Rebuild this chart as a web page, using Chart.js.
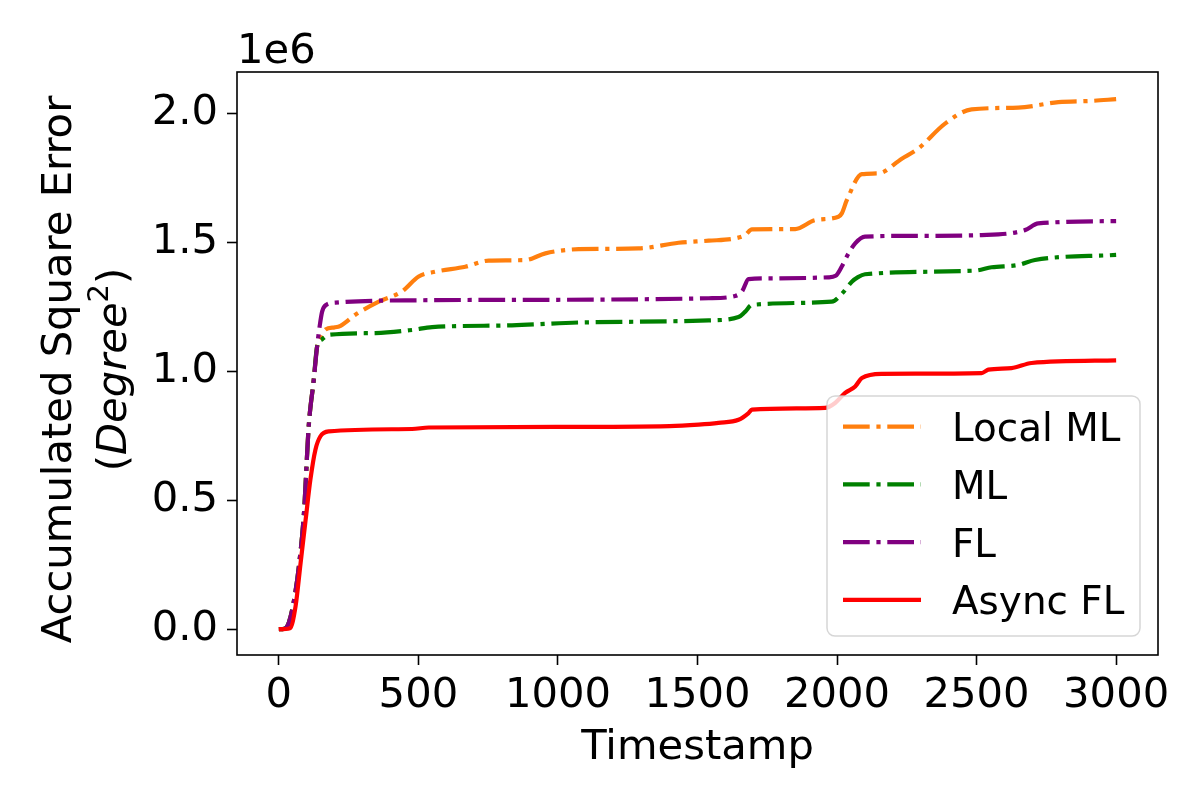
<!DOCTYPE html>
<html>
<head>
<meta charset="utf-8">
<script src="https://cdn.jsdelivr.net/npm/chart.js@4.4.1/dist/chart.umd.min.js"></script>
<style>
  html, body { margin: 0; padding: 0; background: #fff; }
  #wrap { width: 1200px; height: 800px; }
</style>
</head>
<body>
<div id="wrap"><canvas id="lineChart" width="1200" height="800"></canvas></div>
<script>
// accumulated square error per timestamp, values in units of 1e6
const localMlT = [0, 20, 36, 54, 72, 90, 107, 125, 137, 150, 167, 200, 221, 274, 358, 441, 501, 561, 668, 752, 883, 955, 1074, 1289, 1432, 1540, 1635, 1671, 1695, 1850, 1922, 2005, 2017, 2035, 2089, 2148, 2232, 2291, 2387, 2482, 2649, 2793, 2912, 3000];
const localMlV = [0, 0.002, 0.026, 0.11, 0.245, 0.451, 0.787, 0.967, 1.096, 1.13, 1.162, 1.17, 1.176, 1.219, 1.27, 1.309, 1.367, 1.386, 1.405, 1.429, 1.431, 1.457, 1.473, 1.476, 1.498, 1.506, 1.515, 1.528, 1.55, 1.551, 1.586, 1.599, 1.612, 1.663, 1.764, 1.767, 1.824, 1.863, 1.96, 2.015, 2.022, 2.043, 2.048, 2.055];

const mlT = [0, 20, 36, 54, 72, 90, 107, 125, 137, 155, 179, 346, 477, 549, 835, 1074, 1540, 1647, 1670, 1695, 1981, 2017, 2053, 2075, 2100, 2494, 2554, 2649, 2709, 3000];
const mlV = [0, 0.002, 0.026, 0.11, 0.245, 0.451, 0.787, 0.967, 1.096, 1.124, 1.141, 1.148, 1.16, 1.171, 1.178, 1.189, 1.197, 1.21, 1.23, 1.257, 1.27, 1.30, 1.347, 1.365, 1.376, 1.39, 1.403, 1.412, 1.431, 1.451];

const flT = [0, 20, 36, 54, 72, 90, 107, 125, 137, 146, 155, 169, 203, 500, 1000, 1540, 1635, 1660, 1683, 1750, 1969, 1995, 2017, 2040, 2065, 2100, 2300, 2518, 2673, 2721, 3000];
const flV = [0, 0.002, 0.026, 0.11, 0.245, 0.451, 0.787, 0.967, 1.096, 1.173, 1.231, 1.257, 1.266, 1.275, 1.277, 1.283, 1.292, 1.31, 1.357, 1.36, 1.364, 1.37, 1.406, 1.455, 1.496, 1.522, 1.525, 1.528, 1.547, 1.573, 1.582];

const asyncFlT = [0, 40, 60, 78, 96, 113, 131, 149, 179, 477, 537, 1000, 1400, 1504, 1575, 1647, 1683, 1695, 1957, 1993, 2029, 2065, 2089, 2160, 2518, 2542, 2625, 2697, 3000];
const asyncFlV = [0, 0.004, 0.09, 0.258, 0.425, 0.58, 0.696, 0.748, 0.767, 0.776, 0.782, 0.784, 0.787, 0.793, 0.80, 0.812, 0.838, 0.851, 0.858, 0.877, 0.916, 0.941, 0.974, 0.99, 0.993, 1.006, 1.012, 1.032, 1.042];

const seriesNames = ['Local ML', 'ML', 'FL', 'Async FL'];
const seriesColors = ['#ff7f0e', '#008000', '#800080', '#ff0000'];

const xTicks = [0, 500, 1000, 1500, 2000, 2500, 3000];
const yTicks = [0, 0.5, 1.0, 1.5, 2.0];

const FONT = '"DejaVu Sans", sans-serif';
const DASHDOT = [26.7, 6.7, 4.2, 6.7];

function pairs(ts, vs) {
    return ts.map((t, i) => ({ x: t, y: vs[i] }));
}

const seriesData = [
    pairs(localMlT, localMlV),
    pairs(mlT, mlV),
    pairs(flT, flV),
    pairs(asyncFlT, asyncFlV)
];

const datasets = seriesNames.map((name, i) => ({
    label: name,
    data: seriesData[i],
    borderColor: seriesColors[i],
    backgroundColor: seriesColors[i],
    borderWidth: 4.2,
    borderDash: i < 3 ? DASHDOT : [],
    pointRadius: 0,
    fill: false,
    cubicInterpolationMode: 'monotone',
    order: 3 - i   // later series on top, like matplotlib
}));

// frame, offset text, y label and legend
const decor = {
    id: 'decor',
    afterDatasetsDraw(chart) {
        const ctx = chart.ctx;
        const a = chart.chartArea;
        ctx.save();

        ctx.strokeStyle = '#000';
        ctx.lineWidth = 1.6;
        ctx.strokeRect(a.left, a.top, a.right - a.left, a.bottom - a.top);

        ctx.fillStyle = '#000';
        ctx.font = '41.7px ' + FONT;
        ctx.textAlign = 'left';
        ctx.textBaseline = 'alphabetic';
        ctx.fillText('1e6', a.left, 63);

        // y axis label, two rotated lines
        const cy = (a.top + a.bottom) / 2 + 6;
        ctx.save();
        ctx.translate(71, cy);
        ctx.rotate(-Math.PI / 2);
        ctx.textAlign = 'center';
        ctx.font = '41.7px ' + FONT;
        ctx.fillText('Accumulated Square Error', 0, 0);
        ctx.restore();

        ctx.save();
        ctx.translate(126, cy);
        ctx.rotate(-Math.PI / 2);
        ctx.textAlign = 'left';
        const parts = [
            { s: '(', f: '41.7px ' + FONT, dy: 0 },
            { s: 'Degree', f: 'italic 41.7px ' + FONT, dy: 0 },
            { s: '2', f: '29px ' + FONT, dy: -18 },
            { s: ')', f: '41.7px ' + FONT, dy: 0 }
        ];
        let total = 0;
        parts.forEach(p => { ctx.font = p.f; p.w = ctx.measureText(p.s).width; total += p.w; });
        let px = -total / 2;
        parts.forEach(p => { ctx.font = p.f; ctx.fillText(p.s, px, p.dy); px += p.w; });
        ctx.restore();

        // legend box
        const bw = 313, bh = 240;
        const bx = a.right - 18 - bw, by = a.bottom - 19 - bh;
        ctx.beginPath();
        ctx.roundRect(bx, by, bw, bh, 8);
        ctx.fillStyle = 'rgba(255,255,255,0.8)';
        ctx.fill();
        ctx.strokeStyle = 'rgba(204,204,204,0.8)';
        ctx.lineWidth = 1.5;
        ctx.stroke();

        chart.data.datasets.forEach((ds, i) => {
            const ry = by + 30.7 + i * 57.7;
            ctx.beginPath();
            ctx.setLineDash(ds.borderDash);
            ctx.lineDashOffset = 0;
            ctx.strokeStyle = ds.borderColor;
            ctx.lineWidth = ds.borderWidth;
            ctx.lineCap = 'butt';
            ctx.moveTo(bx + 16, ry);
            ctx.lineTo(bx + 94, ry);
            ctx.stroke();
            ctx.setLineDash([]);
            ctx.fillStyle = '#000';
            ctx.font = '38.9px ' + FONT;
            ctx.textAlign = 'left';
            ctx.textBaseline = 'alphabetic';
            ctx.fillText(ds.label, bx + 125, ry + 14.5);
        });

        ctx.restore();
    }
};

const ctx = document.getElementById('lineChart').getContext('2d');

const lineChart = new Chart(ctx, {
    type: 'line',
    data: { datasets: datasets },
    plugins: [decor],
    options: {
        responsive: false,
        animation: false,
        devicePixelRatio: 1,
        layout: { padding: { top: 72, right: 42, left: 0, bottom: 0 } },
        plugins: {
            legend: { display: false },
            tooltip: { enabled: false }
        },
        scales: {
            x: {
                type: 'linear',
                min: -150,
                max: 3150,
                afterBuildTicks: (scale) => { scale.ticks = xTicks.map(v => ({ value: v })); },
                afterFit: (scale) => { scale.height = 145; },
                border: { display: false },
                grid: {
                    drawOnChartArea: false,
                    drawTicks: true,
                    tickLength: 10,
                    tickWidth: 1.6,
                    tickColor: '#000'
                },
                ticks: {
                    color: '#000',
                    padding: 6,
                    maxRotation: 0,
                    font: { family: FONT, size: 41.7 },
                    callback: (v) => String(v)
                },
                title: {
                    display: true,
                    text: 'Timestamp',
                    color: '#000',
                    font: { family: FONT, size: 41.7 },
                    padding: { top: 0, bottom: 27 }
                }
            },
            y: {
                type: 'linear',
                min: -0.1,
                max: 2.16,
                afterBuildTicks: (scale) => { scale.ticks = yTicks.map(v => ({ value: v })); },
                afterFit: (scale) => { scale.width = 237; },
                border: { display: false },
                grid: {
                    drawOnChartArea: false,
                    drawTicks: true,
                    tickLength: 10,
                    tickWidth: 1.6,
                    tickColor: '#000'
                },
                ticks: {
                    color: '#000',
                    padding: 9,
                    font: { family: FONT, size: 41.7 },
                    callback: (v) => v.toFixed(1)
                }
            }
        }
    }
});
</script>
</body>
</html>
